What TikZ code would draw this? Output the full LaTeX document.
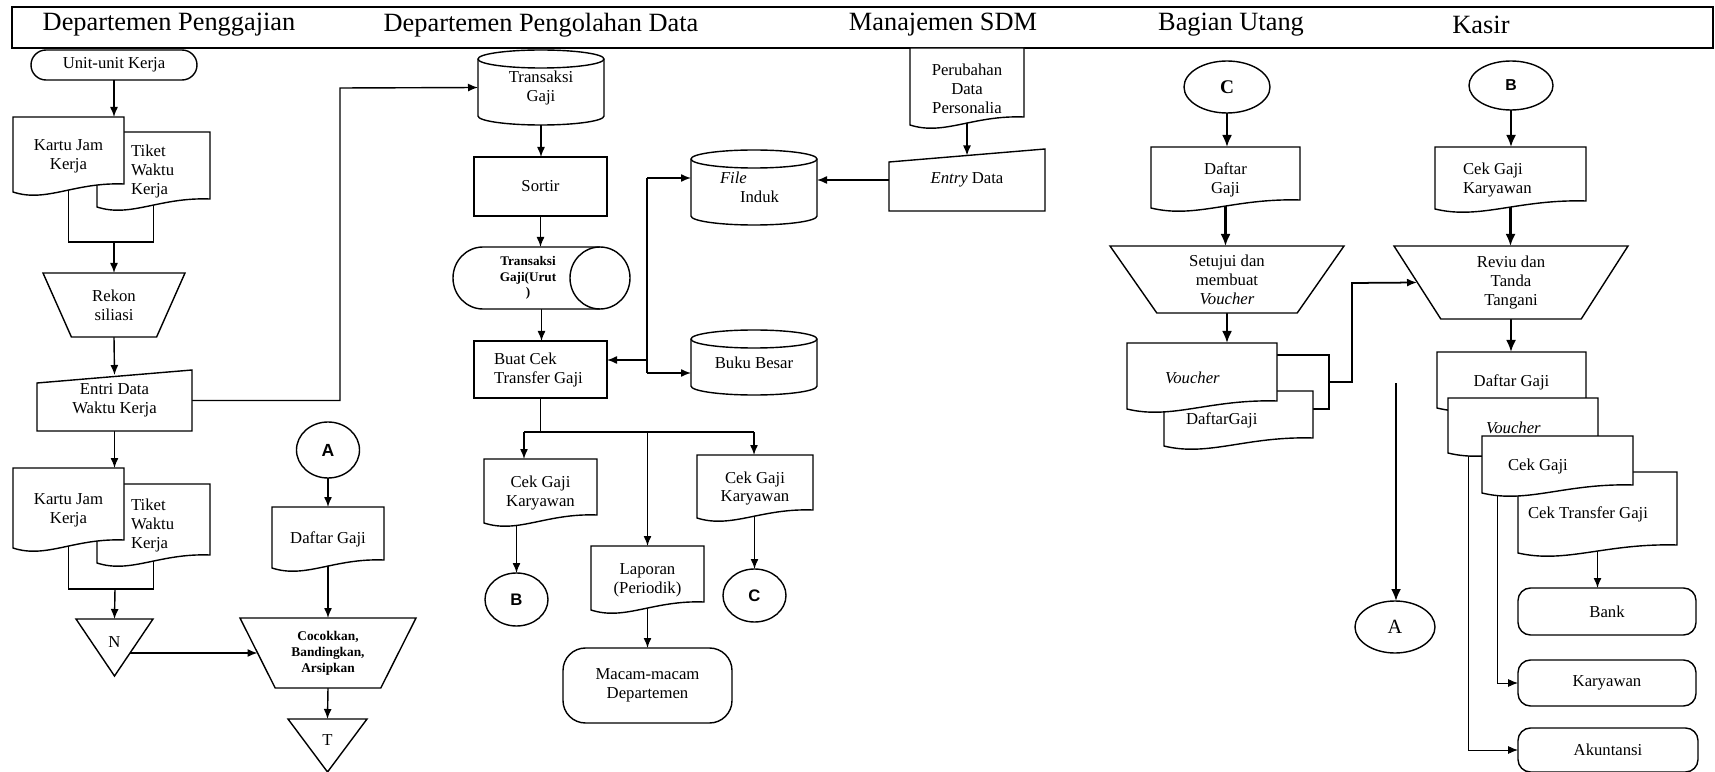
\documentclass[tikz,border=0pt]{standalone}
\usepackage{fontspec}
\setmainfont{Liberation Serif}
\newfontfamily\sansf{Liberation Sans}
\usetikzlibrary{arrows.meta,shapes.geometric,backgrounds}
\makeatletter
\def\fc@corners{%
  \southwest \edef\fcxa{\the\pgf@x}\edef\fcya{\the\pgf@y}%
  \northeast \edef\fcxb{\the\pgf@x}\edef\fcyb{\the\pgf@y}%
}
\def\fc@rectanchors{%
  \inheritsavedanchors[from=rectangle]%
  \inheritanchorborder[from=rectangle]%
  \inheritanchor[from=rectangle]{center}%
  \inheritanchor[from=rectangle]{north}%
  \inheritanchor[from=rectangle]{south}%
  \inheritanchor[from=rectangle]{east}%
  \inheritanchor[from=rectangle]{west}%
  \inheritanchor[from=rectangle]{north east}%
  \inheritanchor[from=rectangle]{north west}%
  \inheritanchor[from=rectangle]{south east}%
  \inheritanchor[from=rectangle]{south west}%
}
% document with wavy bottom
\pgfdeclareshape{docu}{\fc@rectanchors
  \backgroundpath{\fc@corners
    \pgfpathmoveto{\pgfpoint{\fcxa}{\fcyb}}%
    \pgfpathlineto{\pgfpoint{\fcxb}{\fcyb}}%
    \pgfpathlineto{\pgfpoint{\fcxb}{\fcya+2.4mm}}%
    \pgfpathcurveto{\pgfpoint{0.45*(\fcxa)+0.55*(\fcxb)}{\fcya+2.8mm}}%
      {\pgfpoint{0.7*(\fcxa)+0.3*(\fcxb)}{\fcya-1.4mm}}%
      {\pgfpoint{\fcxa}{\fcya+0.8mm}}%
    \pgfpathclose}}
% manual input
\pgfdeclareshape{manin}{\fc@rectanchors
  \backgroundpath{\fc@corners
    \pgfpathmoveto{\pgfpoint{\fcxa}{\fcyb-2.6mm}}%
    \pgfpathlineto{\pgfpoint{\fcxb}{\fcyb}}%
    \pgfpathlineto{\pgfpoint{\fcxb}{\fcya}}%
    \pgfpathlineto{\pgfpoint{\fcxa}{\fcya}}%
    \pgfpathclose}}
% manual operation
\pgfdeclareshape{manop}{\fc@rectanchors
  \backgroundpath{\fc@corners
    \pgfpathmoveto{\pgfpoint{\fcxa}{\fcyb}}%
    \pgfpathlineto{\pgfpoint{\fcxb}{\fcyb}}%
    \pgfpathlineto{\pgfpoint{0.8*(\fcxb)+0.2*(\fcxa)}{\fcya}}%
    \pgfpathlineto{\pgfpoint{0.8*(\fcxa)+0.2*(\fcxb)}{\fcya}}%
    \pgfpathclose}}
% offline storage
\pgfdeclareshape{merge}{\fc@rectanchors
  \backgroundpath{\fc@corners
    \pgfpathmoveto{\pgfpoint{\fcxa}{\fcyb}}%
    \pgfpathlineto{\pgfpoint{\fcxb}{\fcyb}}%
    \pgfpathlineto{\pgfpoint{0.5*(\fcxa)+0.5*(\fcxb)}{\fcya}}%
    \pgfpathclose}}
% disk
\pgfdeclareshape{dbase}{\fc@rectanchors
  \backgroundpath{\fc@corners
    \pgfmathsetmacro\fcrx{((\fcxb)-(\fcxa))/2}%
    \pgfpathmoveto{\pgfpoint{\fcxa}{\fcyb-1.8mm}}%
    \pgfpathlineto{\pgfpoint{\fcxa}{\fcya+1.8mm}}%
    \pgfpatharc{180}{360}{\fcrx pt and 1.8mm}%
    \pgfpathlineto{\pgfpoint{\fcxb}{\fcyb-1.8mm}}%
    \pgfpatharc{0}{180}{\fcrx pt and 1.8mm}%
    \pgfpathclose}%
  \behindforegroundpath{\fc@corners
    \pgfmathsetmacro\fcrx{((\fcxb)-(\fcxa))/2}%
    \pgfpathmoveto{\pgfpoint{\fcxa}{\fcyb-1.8mm}}%
    \pgfpatharc{180}{360}{\fcrx pt and 1.8mm}%
    \pgfusepath{stroke}}}
% lying drum
\pgfdeclareshape{hcyl}{\fc@rectanchors
  \backgroundpath{\fc@corners
    \pgfmathsetmacro\fcry{((\fcyb)-(\fcya))/2}%
    \pgfpathmoveto{\pgfpoint{\fcxa+6mm}{\fcyb}}%
    \pgfpathlineto{\pgfpoint{\fcxb-6mm}{\fcyb}}%
    \pgfpatharc{90}{-90}{6mm and \fcry pt}%
    \pgfpathlineto{\pgfpoint{\fcxa+6mm}{\fcya}}%
    \pgfpatharc{270}{90}{6mm and \fcry pt}%
    \pgfpathclose}%
  \behindforegroundpath{\fc@corners
    \pgfmathsetmacro\fcry{((\fcyb)-(\fcya))/2}%
    \pgfpathmoveto{\pgfpoint{\fcxb-6mm}{\fcyb}}%
    \pgfpatharc{90}{270}{6mm and \fcry pt}%
    \pgfusepath{stroke}}}
\makeatother
\tikzset{
  shapebase/.style={draw=black,fill=white,line width=0.8pt,outer sep=0pt,inner sep=1.5pt,align=center},
  docbox/.style={shapebase,shape=docu},
  inbox/.style={shapebase,shape=manin},
  opbox/.style={shapebase,shape=manop},
  dbbox/.style={shapebase,shape=dbase},
  tapebox/.style={shapebase,shape=hcyl},
  procbox/.style={shapebase,rectangle},
  endbox/.style={shapebase,rectangle,rounded corners=#1},
  endbox/.default=3mm,
  mergebox/.style={shapebase,shape=merge},
  conn/.style={shapebase,ellipse,inner sep=0pt},
  lanetitle/.style={font=\fontsize{15}{18}\selectfont},
  flow/.style={->,>={Latex[length=2mm,width=1.6mm]},line width=0.8pt},
  bigflow/.style={->,>={Latex[length=2.4mm,width=2mm]},line width=1.3pt},
  thinflow/.style={->,>={Latex[length=2mm,width=1.6mm]},line width=0.5pt}
}
\begin{document}
\begin{tikzpicture}[x=0.2mm,y=-0.2mm,font=\fontsize{9.5}{10.8}\selectfont]
\useasboundingbox (0,0) rectangle (1715,772);
%
\node (hdr) [draw,line width=0.9pt,anchor=north west,minimum width=340.2mm,minimum height=8.2mm,inner sep=0pt,outer sep=0pt] at (12,7) {};
\node (h1) [lanetitle] at (169,25) {Departemen Penggajian};
\node (h2) [lanetitle] at (541,25) {Departemen Pengolahan Data};
\node (h3) [lanetitle] at (943,25) {Manajemen SDM};
\node (h4) [lanetitle] at (1231,25) {Bagian Utang};
\node (h5) [lanetitle] at (1481,25) {Kasir};
%
% Departemen Penggajian
\node (uk) [endbox,minimum width=33.2mm,minimum height=6mm] at (114,65) {Unit-unit Kerja};
\node (tw1) [docbox,minimum width=22.6mm,minimum height=15.8mm,text width=9mm,align=flush left] at (153.5,171.5) {Tiket\\Waktu\\Kerja};
\node (kj1) [docbox,minimum width=22.2mm,minimum height=15.8mm] at (68.5,156.5) {Kartu Jam\\Kerja};
\coordinate (kjbar) at (114,242);
\node (rekon) [opbox,minimum width=28.4mm,minimum height=12.8mm] at (114,305) {Rekon\\siliasi};
\node (entri) [inbox,minimum width=31mm,minimum height=12.2mm] at (114.5,400.5) {Entri Data\\Waktu Kerja};
\coordinate (tgturn) at (340,88);
\node (tw2) [docbox,minimum width=22.6mm,minimum height=16.6mm,text width=9mm,align=flush left] at (153.5,525.5) {Tiket\\Waktu\\Kerja};
\node (kj2) [docbox,minimum width=22.2mm,minimum height=16.8mm] at (68.5,510) {Kartu Jam\\Kerja};
\coordinate (kjbar2) at (115,589);
\node (nmerge) [mergebox,minimum width=15.4mm,minimum height=11.4mm] at (114.5,647.5) {\raisebox{2mm}{N}};
\node (acon) [conn,font=\sansf\bfseries\fontsize{10}{12}\selectfont,minimum width=12.6mm,minimum height=11.2mm] at (328,450) {A};
\node (dg1) [docbox,minimum width=22.4mm,minimum height=13mm] at (328,539.5) {Daftar Gaji};
\node (coc) [opbox,minimum width=35.2mm,minimum height=14mm,font=\bfseries\fontsize{7.6}{9}\selectfont] at (328,653) {Cocokkan,\\Bandingkan,\\Arsipkan};
\node (tmerge) [mergebox,minimum width=15.8mm,minimum height=10.6mm] at (327.5,745.5) {\raisebox{2mm}{T}};
%
% Departemen Pengolahan Data
\node (tg) [dbbox,minimum width=25.2mm,minimum height=15mm] at (541,87.5) {Transaksi\\Gaji};
\node (sortir) [procbox,minimum width=26.6mm,minimum height=11.8mm] at (540.5,186.5) {Sortir};
\node (tgu) [tapebox,minimum width=35.4mm,minimum height=12.4mm,font=\bfseries\fontsize{7.5}{9}\selectfont] at (541.5,278) {\hspace*{-5.4mm}Transaksi\\\hspace*{-5.4mm}Gaji(Urut\\\hspace*{-5.4mm})};
\node (bcek) [procbox,minimum width=26.6mm,minimum height=11.4mm,text width=18.6mm,align=flush left] at (540.5,369.5) {Buat Cek\\Transfer Gaji};
\node (fi) [dbbox,minimum width=25.2mm,minimum height=15mm,text width=13.6mm,align=flush left] at (754,187.5) {\textit{File}\\\hspace*{4mm}Induk};
\node (bb) [dbbox,minimum width=25.2mm,minimum height=13mm] at (754,362.5) {Buku Besar};
\coordinate (bus1) at (647,178);
\coordinate (bus2) at (647,360);
\coordinate (bus3) at (647,373);
\coordinate (sp1) at (524,432);
\coordinate (sp3) at (754,432);
\node (cg1) [docbox,minimum width=22.6mm,minimum height=13.6mm] at (540.5,493) {Cek Gaji\\Karyawan};
\node (bcon) [conn,font=\sansf\bfseries\fontsize{9.5}{11}\selectfont,minimum width=12.6mm,minimum height=10.6mm] at (516.5,599.5) {B};
\node (lap) [docbox,minimum width=22.6mm,minimum height=13.6mm] at (647.5,580) {Laporan\\(Periodik)};
\node (mm) [endbox=4.5mm,minimum width=33.8mm,minimum height=15mm] at (647.5,685.5) {Macam-macam\\Departemen};
\node (cg2) [docbox,minimum width=23.2mm,minimum height=13.4mm] at (755,488.5) {Cek Gaji\\Karyawan};
\node (ccon) [conn,font=\sansf\bfseries\fontsize{9.5}{11}\selectfont,minimum width=12.6mm,minimum height=10.6mm] at (754.5,595.5) {C};
%
% Manajemen SDM
\node (pdp) [docbox,minimum width=22.8mm,minimum height=16.2mm] at (967,88.5) {Perubahan\\Data\\Personalia};
\node (ed) [inbox,minimum width=31.2mm,minimum height=12.4mm] at (967,180) {\textit{Entry} Data};
%
% Bagian Utang
\node (ccon2) [conn,font=\bfseries\fontsize{11}{13}\selectfont,minimum width=17.2mm,minimum height=10.4mm] at (1227,87) {C};
\node (dg2) [docbox,minimum width=29.8mm,minimum height=13mm] at (1225.5,179.5) {Daftar\\Gaji};
\node (setuju) [opbox,minimum width=46.8mm,minimum height=13.4mm] at (1227,279.5) {Setujui dan\\membuat\\\textit{Voucher}};
\node (vback) [procbox,minimum width=30mm,minimum height=10.8mm] at (1254,382) {};
\node (dgu) [docbox,minimum width=29.8mm,minimum height=11.8mm,text width=21mm,align=flush left] at (1238.5,420.5) {DaftarGaji};
\node (vo) [docbox,minimum width=30mm,minimum height=14mm,text width=14.8mm,align=flush left] at (1202,378) {\textit{Voucher}};
\coordinate (hop) at (1352,283);
\coordinate (atop) at (1396,383);
\node (acon2) [conn,font=\fontsize{11.5}{13}\selectfont,minimum width=16mm,minimum height=10.4mm] at (1395,627) {A};
%
% Kasir
\node (bcon2) [conn,font=\sansf\bfseries\fontsize{9}{11}\selectfont,minimum width=16.8mm,minimum height=9.8mm] at (1511,85.5) {B};
\node (cgk) [docbox,minimum width=30.2mm,minimum height=13.2mm,text width=19mm,align=flush left] at (1510.5,180) {Cek Gaji\\Karyawan};
\node (reviu) [opbox,minimum width=46.8mm,minimum height=14.6mm] at (1511,282.5) {Reviu dan\\Tanda\\Tangani};
\node (dgk) [docbox,minimum width=29.8mm,minimum height=12mm] at (1511.5,382) {Daftar Gaji};
\node (vok) [docbox,minimum width=30mm,minimum height=11.8mm,text width=14.8mm,align=flush left] at (1523,427.5) {\textit{Voucher}};
\node (ctg) [docbox,minimum width=31.8mm,minimum height=17mm,text width=27.8mm,align=flush left] at (1597.5,514.5) {Cek Transfer Gaji};
\node (cgj) [docbox,minimum width=30.2mm,minimum height=12.2mm,text width=19.8mm,align=flush left] at (1557.5,466.5) {Cek Gaji};
\node (bank) [endbox=2.5mm,minimum width=35.6mm,minimum height=9.4mm] at (1607,611.5) {Bank};
\node (kar) [endbox=2.5mm,minimum width=35.6mm,minimum height=9.2mm] at (1607,683) {Karyawan};
\node (ak) [endbox=2.5mm,minimum width=36mm,minimum height=8.8mm] at (1608,750) {Akuntansi};
%
\begin{pgfonlayer}{background}
\draw[flow] (uk.south) -- (uk.south |- kj1.north);
\draw[line width=0.8pt] (kj1.center) |- (kjbar) -| (tw1.center);
\draw[flow] (kjbar) -- (rekon.north);
\draw[flow] (rekon.south) -- ([yshift=-1mm]entri.north);
\draw[flow] (entri.east) -| (tgturn) -- (tg.west);
\draw[flow] (entri.south) -- (entri.south |- kj2.north);
\draw[line width=0.8pt] (kj2.center) |- (kjbar2) -| (tw2.center);
\draw[flow] (kjbar2) -- (nmerge.north);
\draw[flow] (nmerge.center |- coc.west) -- ([xshift=3.5mm]coc.west);
\draw[flow] (acon.south) -- (dg1.north);
\draw[flow] (dg1.center) -- (coc.north);
\draw[flow] (coc.south) -- (tmerge.north);
%
\draw[flow] (tg.south) -- (tg.south |- sortir.north);
\draw[flow] (sortir.south) -- (sortir.south |- tgu.north);
\draw[flow] (tgu.south) -- (tgu.south |- bcek.north);
\draw[line width=0.8pt] (bus1) -- (bus3);
\draw[flow] (bus1) -- (bus1 -| fi.west);
\draw[flow] (bus2) -- (bus2 -| bcek.east);
\draw[flow] (bus3) -- (bus3 -| bb.west);
\draw[line width=0.8pt] (bcek.south) -- (bcek.south |- sp1);
\draw[line width=0.8pt] (sp1) -- (sp3);
\draw[flow] (sp1) -- (sp1 |- cg1.north);
\draw[flow] (lap.north |- sp1) -- (lap.north);
\draw[flow] (sp3) -- (sp3 |- cg2.north);
\draw[flow] (bcon.north |- cg1.center) -- (bcon.north);
\draw[flow] (lap.center) -- (lap.center |- mm.north);
\draw[flow] (ccon.north |- cg2.center) -- (ccon.north);
%
\draw[flow] (pdp.center) -- ([yshift=-1.3mm]ed.north);
\draw[flow] (ed.center) -- (ed.center -| fi.east);
%
\draw[bigflow] (ccon2.south) -- (ccon2.south |- dg2.north);
\draw[bigflow] (dg2.center) -- (dg2.center |- setuju.north);
\draw[bigflow] (setuju.south) -- (setuju.south |- vo.north);
\draw[flow,line width=1pt] (vback.east) -| (hop) -- ([xshift=4.6mm]reviu.west);
\draw[bigflow] (atop) -- (atop |- acon2.north);
%
\draw[bigflow] (bcon2.south) -- (bcon2.south |- cgk.north);
\draw[bigflow] (cgk.center) -- (cgk.center |- reviu.north);
\draw[bigflow] (reviu.south) -- (reviu.south |- dgk.north);
\draw[thinflow] ([xshift=-11mm]vok.center) |- (ak.west);
\draw[thinflow] ([xshift=-12.1mm]cgj.center) |- (kar.west);
\draw[flow] (ctg.center) -- (ctg.center |- bank.north);
\end{pgfonlayer}
\end{tikzpicture}
\end{document}
